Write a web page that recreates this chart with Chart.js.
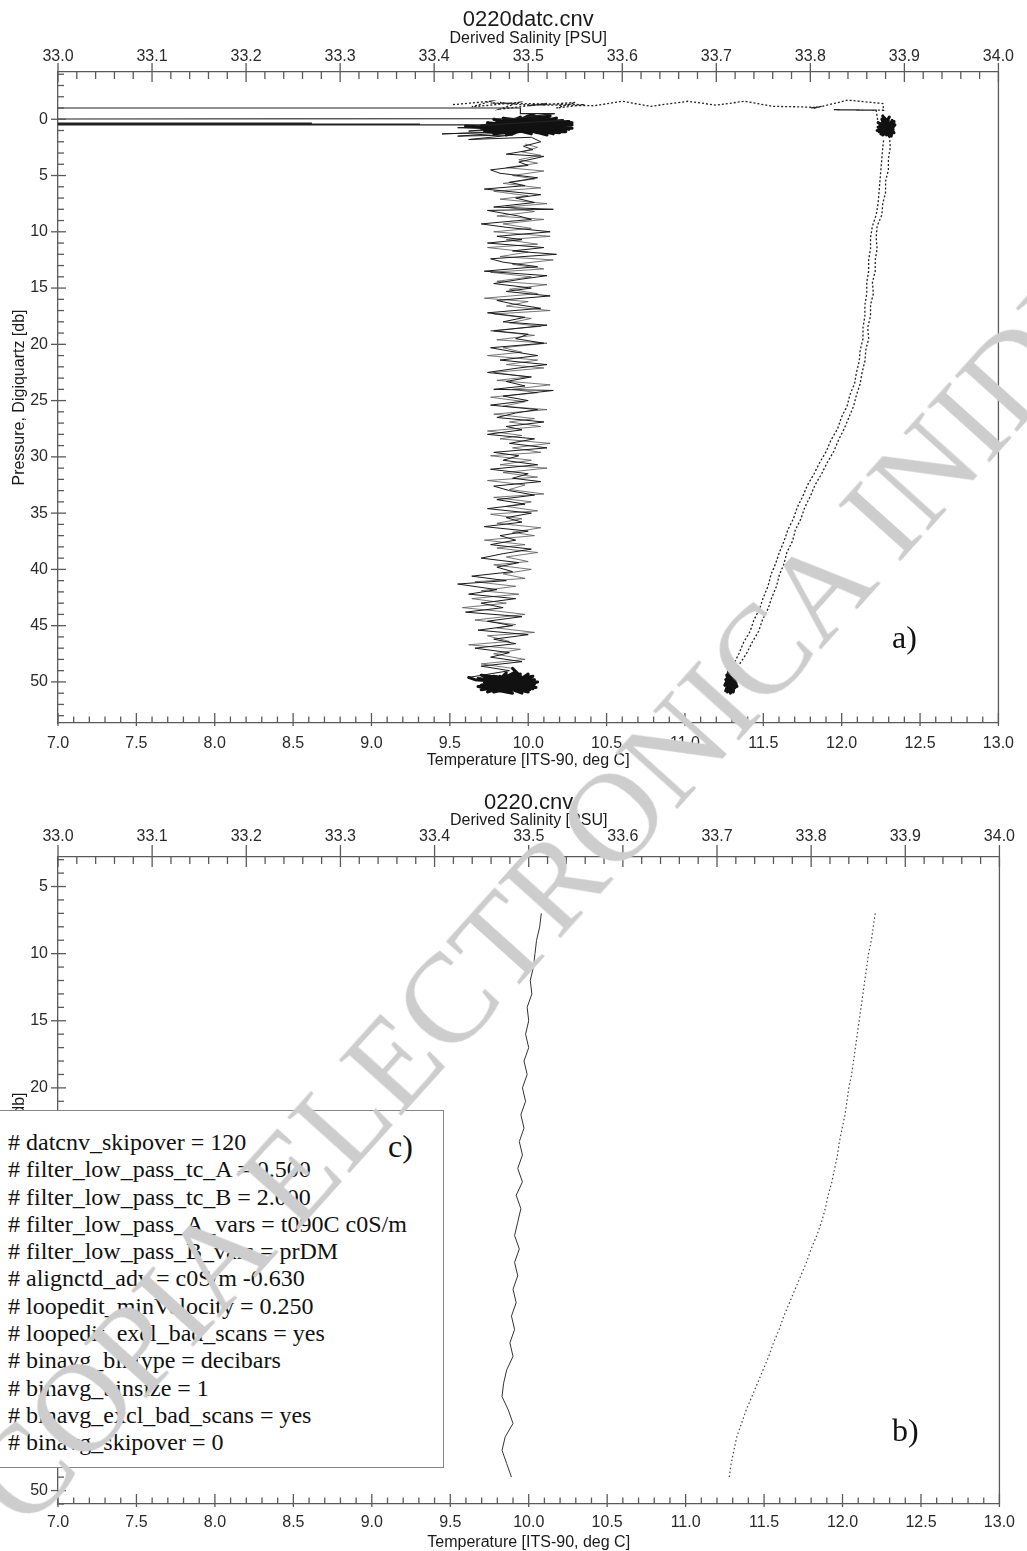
<!DOCTYPE html>
<html>
<head>
<meta charset="utf-8">
<script src="https://cdn.jsdelivr.net/npm/chart.js@4.4.1/dist/chart.umd.min.js"></script>
<style>
  html, body { margin: 0; padding: 0; background: #fff; }
  body { width: 1027px; height: 1551px; position: relative; overflow: hidden; font-family: "Liberation Sans", Arial, sans-serif; }
  .panel { position: absolute; left: 0; width: 1027px; }
  #wrapA { top: 0; height: 780px; }
  #wrapB { top: 780px; height: 771px; }
  .tag { position: absolute; font-family: "Liberation Serif", "Times New Roman", serif; font-size: 32px; line-height: 1; color: #111; }
  #notes { position: absolute; left: -2px; top: 1110px; width: 446px; height: 358px; box-sizing: border-box;
           border: 1.5px solid #858585; background: #fff; font-family: "Liberation Serif", "Times New Roman", serif;
           font-size: 24px; line-height: 27.3px; padding: 18px 0 0 9px; color: #111; white-space: pre; }
  #notes .tag { left: 389px; top: 19px; }
  #mark { position: absolute; left: -5px; top: 1441px; font-family: "Liberation Serif", "Times New Roman", serif;
          font-size: 126px; line-height: 1; color: #cdcdcd; white-space: nowrap;
          transform-origin: 0 50%; transform: rotate(-48deg); pointer-events: none; }
</style>
</head>
<body>
<div class="panel" id="wrapA"><canvas id="chartA" width="1027" height="780"></canvas></div>
<div class="panel" id="wrapB"><canvas id="chartB" width="1027" height="771"></canvas></div>
<div class="tag" style="left:892px; top:621px;">a)</div>
<div class="tag" style="left:892px; top:1414px;">b)</div>
<div id="notes"></div>
<div id="mark">COPIA ELECTRONICA INIDEP</div>
<script>
// ---- axis tick labels ----
const tempTicks = [7.0, 7.5, 8.0, 8.5, 9.0, 9.5, 10.0, 10.5, 11.0, 11.5, 12.0, 12.5, 13.0];
const salTicks = [33.0, 33.1, 33.2, 33.3, 33.4, 33.5, 33.6, 33.7, 33.8, 33.9, 34.0];
const presTicksRaw = [0, 5, 10, 15, 20, 25, 30, 35, 40, 45, 50];
const presTicksBinned = [5, 10, 15, 20, 25, 30, 35, 40, 45, 50];

// ---- raw cast (0220datc.cnv), temperature: [pressure db, degC] in scan order ----
// deck / surface soak: out-of-range readings run off the left of the axis
const tempSoak = [
  [-1.0, 4.0], [-1.0, 9.95], [-0.5, 9.95], [-0.5, 10.17], [-0.05, 9.9], [0.0, 4.0],
  [0.35, 4.0], [0.35, 8.62], [0.42, 4.0], [0.42, 9.31], [0.5, 4.0], [0.5, 9.75], [0.1, 10.22]
];
const tempTopCluster = [
  [0.1, 10.22], [0.6, 9.72], [0.2, 10.26], [0.9, 9.8], [0.0, 10.1], [1.2, 9.9], [0.3, 10.28], [0.8, 9.7],
  [-0.2, 10.05], [1.0, 10.2], [0.4, 9.76], [1.3, 10.02], [0.1, 9.86], [0.7, 10.27], [1.1, 9.74], [-0.1, 10.18],
  [0.5, 9.92], [1.4, 10.12], [0.2, 9.8], [0.9, 10.24], [0.6, 9.88], [-0.3, 10.0], [1.2, 9.84], [0.3, 10.16],
  [1.0, 9.72], [0.4, 10.25], [0.8, 9.95], [0.0, 9.78], [1.1, 10.14], [0.5, 10.28], [0.7, 9.82], [-0.2, 9.95],
  [1.3, 9.9], [0.2, 10.08], [0.9, 9.76], [0.6, 10.22], [1.0, 10.0], [0.1, 9.9], [0.8, 10.2], [0.4, 9.85],
  [1.2, 10.06], [0.3, 9.98], [0.7, 10.12], [0.5, 9.82], [1.0, 10.18], [0.2, 10.0], [0.6, 10.1], [0.9, 9.9],
  [0.4, 10.05], [0.8, 9.96], [0.2, 9.94], [0.9, 10.26], [-0.4, 10.02], [1.3, 9.78], [0.5, 10.2], [-0.1, 9.84],
  [1.1, 10.22], [0.3, 9.74], [0.7, 10.04], [1.4, 9.86], [-0.3, 10.14], [0.6, 9.7], [1.2, 10.2], [0.0, 9.94],
  [0.8, 10.28], [0.4, 9.9], [1.0, 9.78], [-0.2, 10.12], [0.5, 9.96], [1.3, 10.16], [0.1, 9.82], [0.9, 10.08],
  [0.6, 9.92], [1.1, 10.24], [0.3, 10.04], [0.8, 9.84], [0.6, 9.6]
];
const tempDescent = [
  [0.6, 9.6], [0.8, 10.18], [1.05, 9.62], [0.5, 10.05], [0.75, 9.55], [1.0, 10.1], [1.3, 9.45], [1.1, 9.95],
  [1.5, 9.55], [1.4, 9.9], [1.8, 9.62], [1.6, 10.02],
  [2.0, 10.08], [2.4, 9.97], [2.7, 10.03], [3.1, 9.86], [3.3, 10.10], [3.8, 9.94], [4.1, 10.00], [4.5, 9.76],
  [4.8, 9.82], [5.2, 10.06], [5.6, 9.88], [5.9, 9.98], [6.2, 9.72], [6.7, 10.08], [7.0, 9.92], [7.4, 10.04],
  [7.8, 9.78], [8.0, 10.16], [8.1, 9.74], [8.6, 9.94], [8.9, 10.02], [9.3, 9.70], [9.6, 9.86], [10.0, 10.14],
  [10.4, 9.80], [10.7, 9.96], [11.0, 9.74], [11.4, 10.10], [11.7, 9.90], [12.0, 10.18], [12.4, 9.76], [12.7, 9.84],
  [13.1, 10.06], [13.5, 9.72], [13.9, 10.12], [14.2, 9.96], [14.6, 9.78], [15.0, 10.02], [15.3, 9.86], [15.7, 10.14],
  [16.1, 9.80], [16.4, 9.90], [16.8, 10.08], [17.2, 9.74], [17.6, 9.98], [18.0, 9.84], [18.3, 10.12], [18.8, 9.78],
  [19.1, 10.00], [19.5, 9.92], [19.9, 10.10], [20.3, 9.76], [20.6, 9.88], [21.0, 10.06], [21.4, 9.82], [21.8, 10.12],
  [22.1, 9.94], [22.5, 9.74], [22.9, 10.02], [23.3, 9.86], [23.7, 9.98], [24.0, 9.78], [24.1, 10.16], [24.6, 9.84],
  [25.0, 10.00], [25.4, 9.76], [25.8, 10.06], [26.1, 9.92], [26.5, 9.80], [26.9, 10.10], [27.3, 9.86], [27.6, 9.96],
  [28.0, 9.74], [28.4, 10.04], [28.8, 9.88], [29.2, 10.12], [29.6, 9.78], [29.9, 9.94], [30.3, 9.84], [30.7, 10.06],
  [31.1, 9.76], [31.5, 10.00], [31.9, 9.90], [32.2, 10.08], [32.6, 9.78], [33.0, 9.88], [33.4, 10.04], [33.8, 9.80],
  [34.2, 9.98], [34.6, 9.74], [35.0, 10.02], [35.4, 9.86], [35.8, 9.96], [36.2, 9.72], [36.6, 10.00], [37.0, 9.82],
  [37.4, 9.92], [37.8, 9.76], [38.2, 10.02], [38.6, 9.84], [39.0, 9.70], [39.4, 9.94], [39.8, 9.80], [40.2, 9.90],
  [40.6, 9.64], [41.0, 9.86], [41.3, 9.55], [41.8, 9.80], [42.2, 9.62], [42.6, 9.92], [43.0, 9.70], [43.4, 9.84],
  [43.8, 9.60], [44.2, 9.96], [44.6, 9.74], [45.0, 9.90], [45.4, 9.68], [45.8, 10.00], [46.2, 9.78], [46.6, 9.92],
  [47.0, 9.66], [47.4, 9.88], [47.8, 9.76], [48.2, 9.96], [48.6, 9.70], [49.0, 9.88], [49.6, 9.62]
];
const tempBottomCluster = [
  [49.6, 9.62], [49.8, 9.66], [50.2, 10.04], [50.6, 9.72], [49.6, 10.0], [50.9, 9.78], [50.0, 10.06], [49.4, 9.7],
  [50.7, 9.98], [50.1, 9.75], [49.5, 10.03], [50.8, 9.8], [49.3, 9.95], [50.3, 9.7], [50.5, 10.05], [49.7, 9.76],
  [50.9, 10.0], [50.0, 9.72], [49.9, 9.96], [50.6, 9.8], [50.3, 10.02], [49.6, 9.74], [51.0, 9.9], [50.4, 9.68],
  [49.8, 10.04], [50.2, 9.78], [50.7, 10.01], [49.5, 9.82], [50.5, 9.94], [50.0, 9.86], [50.8, 9.92], [49.7, 9.88],
  [50.4, 9.98], [49.9, 9.84], [49.2, 9.86], [50.9, 9.74], [49.6, 10.02], [50.4, 9.82], [49.1, 9.92], [50.7, 9.7],
  [50.0, 10.04], [49.5, 9.78], [51.0, 9.96], [49.8, 9.72], [50.5, 9.88], [49.3, 10.0], [50.8, 9.84], [50.1, 9.94],
  [49.7, 9.68], [50.6, 10.03], [48.8, 9.90]
];
const tempAscent = [
  [48.8, 9.90], [48.4, 9.70], [48.0, 9.98], [47.5, 9.78], [47.1, 9.95], [46.7, 9.62], [46.4, 9.88], [45.9, 9.74],
  [45.6, 10.04], [45.2, 9.80], [44.9, 9.92], [44.5, 9.66], [44.0, 9.98], [43.7, 9.80], [43.4, 9.58], [43.0, 9.86],
  [42.6, 9.64], [42.2, 9.94], [41.9, 9.70], [41.5, 9.92], [41.1, 9.66], [40.8, 9.98], [40.4, 9.84], [40.0, 10.02],
  [39.6, 9.78], [39.3, 10.00], [38.9, 9.86], [38.5, 10.06], [38.1, 9.80], [37.8, 9.98], [37.4, 9.72], [37.0, 10.04],
  [36.7, 9.90], [36.3, 10.08], [35.9, 9.80], [35.5, 9.96], [35.1, 9.76], [34.8, 10.06], [34.4, 9.86], [34.0, 10.02],
  [33.6, 9.78], [33.3, 10.10], [32.9, 9.88], [32.5, 9.98], [32.1, 9.74], [31.8, 10.06], [31.4, 9.84], [31.0, 10.12],
  [30.7, 9.82], [30.3, 10.02], [29.9, 9.76], [29.6, 10.08], [29.2, 9.90], [28.8, 10.14], [28.4, 9.82], [28.1, 9.96],
  [27.7, 9.74], [27.3, 10.08], [26.9, 9.88], [26.6, 10.04], [26.2, 9.78], [25.8, 10.12], [25.5, 9.84], [25.1, 9.98],
  [24.7, 9.76], [24.3, 10.06], [24.0, 9.90], [23.6, 10.14], [23.2, 9.80], [22.9, 10.00], [22.5, 9.78], [22.1, 10.10],
  [21.8, 9.86], [21.4, 10.06], [21.0, 9.74], [20.7, 9.96], [20.3, 9.84], [19.9, 10.12], [19.6, 9.80], [19.2, 10.04],
  [18.8, 9.76], [18.4, 10.08], [18.1, 9.88], [17.7, 10.02], [17.3, 9.78], [17.0, 10.14], [16.6, 9.86], [16.2, 10.00],
  [15.9, 9.72], [15.5, 10.06], [15.1, 9.88], [14.7, 10.12], [14.4, 9.80], [14.0, 10.02], [13.6, 9.76], [13.3, 10.10],
  [12.9, 9.90], [12.5, 10.16], [12.2, 9.82], [11.8, 10.00], [11.4, 9.74], [11.1, 10.06], [10.7, 9.86], [10.4, 10.14],
  [10.0, 9.78], [9.7, 10.02], [9.3, 9.84], [8.9, 10.10], [8.6, 9.80], [8.2, 10.04], [7.8, 9.86], [7.5, 10.12],
  [7.1, 9.82], [6.8, 10.00], [6.4, 9.78], [6.1, 10.08], [5.7, 9.84], [5.3, 10.04], [5.0, 9.90], [4.6, 10.10],
  [4.3, 9.86], [3.9, 10.06], [3.6, 9.94], [3.2, 10.08], [2.9, 9.96], [2.5, 10.06], [2.2, 9.98]
];

// ---- raw cast, salinity: [pressure db, PSU] in scan order ----
const salSurface = [
  [-1.3, 33.42], [-1.6, 33.46], [-1.1, 33.44], [-1.5, 33.49], [-0.9, 33.47], [-1.4, 33.52], [-1.2, 33.50],
  [-1.5, 33.55], [-1.0, 33.53], [-1.3, 33.56], [-1.45, 33.46], [-1.35, 33.48], [-1.5, 33.47], [-1.3, 33.49],
  [-1.2, 33.57], [-1.6, 33.60], [-1.15, 33.63], [-1.6, 33.67], [-1.25, 33.70], [-1.6, 33.73], [-1.15, 33.76],
  [-1.1, 33.79], [-1.05, 33.807], [-1.0, 33.80], [-1.15, 33.812], [-0.95, 33.803], [-1.1, 33.81],
  [-1.7, 33.84], [-1.4, 33.877], [-0.8, 33.878], [-0.85, 33.825], [-0.8, 33.87], [0.3, 33.872]
];
const salTopCluster = [
  [0.3, 33.872], [0.9, 33.888], [0.0, 33.876], [1.3, 33.882], [0.5, 33.890], [1.1, 33.873], [-0.2, 33.884],
  [0.7, 33.878], [1.5, 33.886], [0.2, 33.889], [1.0, 33.871], [0.6, 33.884], [-0.1, 33.879], [1.2, 33.889],
  [0.4, 33.875], [0.8, 33.887], [1.4, 33.877], [0.1, 33.883], [0.9, 33.880], [0.5, 33.874], [1.2, 33.884],
  [0.3, 33.886], [0.7, 33.872], [1.0, 33.885], [0.2, 33.878], [0.6, 33.888], [1.3, 33.875], [0.0, 33.882],
  [0.8, 33.874], [1.1, 33.888], [0.4, 33.880], [-0.3, 33.877], [0.9, 33.884], [0.5, 33.879], [1.4, 33.881],
  [0.1, 33.887], [0.7, 33.883], [1.5, 33.884]
];
const salDown = [
  [1.5, 33.884], [2.5, 33.885], [3.5, 33.883], [4.5, 33.883], [5.5, 33.880], [6.5, 33.880], [7.5, 33.877],
  [8.5, 33.876], [9.5, 33.871], [10.5, 33.870], [11.5, 33.871], [12.5, 33.869], [13.5, 33.869], [14.5, 33.866],
  [15.5, 33.867], [16.5, 33.864], [17.5, 33.864], [18.5, 33.861], [19.5, 33.862], [20.5, 33.859], [21.5, 33.858],
  [22.5, 33.855], [23.5, 33.853], [24.5, 33.849], [25.5, 33.846], [26.5, 33.841], [27.5, 33.836], [28.5, 33.830],
  [29.5, 33.825], [30.5, 33.818], [31.5, 33.812], [32.5, 33.805], [33.5, 33.800], [34.5, 33.794], [35.5, 33.790],
  [36.5, 33.784], [37.5, 33.781], [38.5, 33.775], [39.5, 33.772], [40.5, 33.767], [41.5, 33.764], [42.5, 33.759],
  [43.5, 33.755], [44.5, 33.749], [45.5, 33.745], [46.5, 33.738], [47.5, 33.732], [48.5, 33.724], [49.2, 33.719]
];
const salBottomCluster = [
  [49.2, 33.719], [49.8, 33.710], [50.5, 33.720], [49.1, 33.714], [50.9, 33.712], [49.6, 33.722], [50.3, 33.709],
  [49.0, 33.717], [51.0, 33.715], [50.1, 33.721], [49.4, 33.711], [50.7, 33.718], [49.9, 33.713], [50.4, 33.722],
  [49.3, 33.716], [50.8, 33.710], [50.0, 33.719], [49.7, 33.714], [50.6, 33.716], [49.5, 33.720], [50.2, 33.712],
  [49.0, 33.713], [50.5, 33.714], [49.4, 33.721], [50.9, 33.718], [49.8, 33.716], [48.9, 33.718]
];
const salUp = [
  [48.9, 33.718], [48.5, 33.718], [47.5, 33.724], [46.5, 33.729], [45.5, 33.736], [44.5, 33.740], [43.5, 33.746],
  [42.5, 33.750], [41.5, 33.755], [40.5, 33.758], [39.5, 33.763], [38.5, 33.767], [37.5, 33.772], [36.5, 33.776],
  [35.5, 33.782], [34.5, 33.786], [33.5, 33.792], [32.5, 33.797], [31.5, 33.804], [30.5, 33.810], [29.5, 33.817],
  [28.5, 33.822], [27.5, 33.829], [26.5, 33.833], [25.5, 33.839], [24.5, 33.842], [23.5, 33.847], [22.5, 33.849],
  [21.5, 33.852], [20.5, 33.853], [19.5, 33.856], [18.5, 33.856], [17.5, 33.858], [16.5, 33.858], [15.5, 33.860],
  [14.5, 33.860], [13.5, 33.862], [12.5, 33.862], [11.5, 33.864], [10.5, 33.864], [9.5, 33.866], [8.5, 33.870],
  [7.5, 33.872], [6.5, 33.873], [5.5, 33.874], [4.5, 33.875], [3.5, 33.876], [2.5, 33.877], [1.8, 33.878]
];

// ---- bin-averaged cast (0220.cnv), 1 db bins ----
const binPres = [7, 8, 9, 10, 11, 12, 13, 14, 15, 16, 17, 18, 19, 20, 21, 22, 23, 24, 25, 26, 27, 28,
                 29, 30, 31, 32, 33, 34, 35, 36, 37, 38, 39, 40, 41, 42, 43, 44, 45, 46, 47, 48, 49];
const binTemp = [10.08, 10.07, 10.05, 10.04, 10.03, 10.01, 10.02, 9.99, 10.00, 9.98, 10.00, 9.97, 9.99, 9.96,
                 9.98, 9.95, 9.97, 9.94, 9.96, 9.93, 9.96, 9.92, 9.95, 9.93, 9.91, 9.94, 9.91, 9.93, 9.90,
                 9.92, 9.89, 9.91, 9.88, 9.90, 9.86, 9.84, 9.83, 9.87, 9.90, 9.85, 9.83, 9.86, 9.89];
const binSal = [33.868, 33.866, 33.864, 33.861, 33.859, 33.857, 33.855, 33.853, 33.851, 33.849, 33.847,
                33.845, 33.843, 33.840, 33.838, 33.836, 33.833, 33.830, 33.828, 33.825, 33.822, 33.818,
                33.815, 33.811, 33.806, 33.800, 33.795, 33.789, 33.783, 33.777, 33.771, 33.766, 33.760,
                33.755, 33.749, 33.743, 33.737, 33.731, 33.726, 33.721, 33.718, 33.715, 33.713];

// ---- processing header shown in the note box ----
const settingsLines = [
  '# datcnv_skipover = 120',
  '# filter_low_pass_tc_A = 0.500',
  '# filter_low_pass_tc_B = 2.000',
  '# filter_low_pass_A_vars = t090C c0S/m',
  '# filter_low_pass_B_vars = prDM',
  '# alignctd_adv = c0S/m -0.630',
  '# loopedit_minVelocity = 0.250',
  '# loopedit_excl_bad_scans = yes',
  '# binavg_bintype = decibars',
  '# binavg_binsize = 1',
  '# binavg_excl_bad_scans = yes',
  '# binavg_skipover = 0'
];

const AXIS = '#5a5a5a';
const TEXT = '#2a2a2a';
const FONT = '"Liberation Sans", Arial, sans-serif';

// Tick marks (major + minor), right-hand frame line and the file name above each plot.
const profileFrame = {
  id: 'profileFrame',
  afterDraw(chart, args, o) {
    const { ctx, chartArea: a, scales } = chart;
    ctx.save();
    ctx.strokeStyle = AXIS;
    ctx.lineWidth = 1.3;
    const seg = (x1, y1, x2, y2) => { ctx.beginPath(); ctx.moveTo(x1, y1); ctx.lineTo(x2, y2); ctx.stroke(); };
    seg(a.right, a.top, a.right, a.bottom);

    const marks = (scale, minor, every, draw) => {
      const start = Math.ceil(scale.min / minor - 1e-6);
      const end = Math.floor(scale.max / minor + 1e-6);
      for (let k = start; k <= end; k++) draw(scale.getPixelForValue(k * minor), k % every === 0);
    };
    marks(scales.xS, 0.02, 5, (x, major) => major ? seg(x, a.top - o.topOut, x, a.top + 10) : seg(x, a.top, x, a.top + 7));
    marks(scales.xT, 0.1, 5, (x, major) => major ? seg(x, a.bottom + 3, x, a.bottom - 10) : seg(x, a.bottom, x, a.bottom - 6.5));
    marks(scales.y, 1, 5, (y, major) => major ? seg(a.left - 7, y, a.left + 8, y) : seg(a.left, y, a.left + 6, y));

    ctx.fillStyle = '#1a1a1a';
    ctx.font = '22px ' + FONT;
    ctx.textAlign = 'center';
    ctx.textBaseline = 'middle';
    ctx.fillText(o.title, (a.left + a.right) / 2, o.titleY);
    ctx.restore();
  }
};

function makeChart(canvasId, cfg) {
  const fixedTicks = list => scale => { scale.ticks = list.map(v => ({ value: v })); };
  const tickFont = { family: FONT, size: 16, lineHeight: 1 };
  const titleFont = { family: FONT, size: 16, lineHeight: 1 };
  return new Chart(document.getElementById(canvasId), {
    type: 'scatter',
    data: { datasets: cfg.datasets },
    options: {
      responsive: false,
      animation: false,
      devicePixelRatio: 1,
      layout: { padding: { left: 0, right: 24, top: 0, bottom: 0 } },
      plugins: {
        legend: { display: false },
        tooltip: { enabled: false },
        profileFrame: { title: cfg.title, titleY: cfg.titleY, topOut: cfg.topOut }
      },
      scales: {
        xS: {
          type: 'linear', axis: 'x', position: 'top', min: 33, max: 34,
          afterBuildTicks: fixedTicks(salTicks),
          afterFit: s => { s.height = cfg.topH; },
          grid: { display: false, drawTicks: false },
          border: { display: true, color: AXIS, width: 1.3 },
          ticks: { autoSkip: false, maxRotation: 0, padding: cfg.topPad, color: TEXT, font: tickFont, callback: v => v.toFixed(1) },
          title: { display: true, text: 'Derived Salinity [PSU]', color: '#1a1a1a', font: titleFont, padding: { top: cfg.topTitlePad, bottom: 0 } }
        },
        xT: {
          type: 'linear', axis: 'x', position: 'bottom', min: 7, max: 13,
          afterBuildTicks: fixedTicks(tempTicks),
          afterFit: s => { s.height = cfg.bottomH; },
          grid: { display: false, drawTicks: false },
          border: { display: true, color: AXIS, width: 1.3 },
          ticks: { autoSkip: false, maxRotation: 0, padding: cfg.bottomPad, color: TEXT, font: tickFont, callback: v => v.toFixed(1) },
          title: { display: true, text: 'Temperature [ITS-90, deg C]', color: '#1a1a1a', font: titleFont, padding: { top: 0, bottom: cfg.bottomTitlePad } }
        },
        y: {
          type: 'linear', axis: 'y', position: 'left', reverse: true, min: cfg.pMin, max: cfg.pMax,
          afterBuildTicks: fixedTicks(cfg.pTicks),
          afterFit: s => { s.width = 58; },
          grid: { display: false, drawTicks: false },
          border: { display: true, color: AXIS, width: 1.3 },
          ticks: { autoSkip: false, padding: 10, color: TEXT, font: tickFont, callback: v => String(v) },
          title: { display: true, text: 'Pressure, Digiquartz [db]', color: '#1a1a1a', font: titleFont, padding: { top: 12, bottom: 0 } }
        }
      }
    },
    plugins: [profileFrame]
  });
}

const base = { showLine: true, pointRadius: 0, pointHoverRadius: 0, tension: 0, yAxisID: 'y' };
const rounded = { borderJoinStyle: 'round', borderCapStyle: 'round' };
const tempLine = (rows, width, color, extra) => Object.assign({
  data: rows.map(([p, t]) => ({ x: t, y: p })), xAxisID: 'xT', borderColor: color, borderWidth: width }, base, extra || {});
const salLine = (rows, width, color, dash, extra) => Object.assign({
  data: rows.map(([p, s]) => ({ x: s, y: p })), xAxisID: 'xS', borderColor: color, borderWidth: width, borderDash: dash }, base, extra || {});

makeChart('chartA', {
  title: '0220datc.cnv', titleY: 20, topOut: 9,
  topH: 72, topPad: 7, topTitlePad: 31,
  bottomH: 57, bottomPad: 13, bottomTitlePad: 11,
  pMin: -4.2, pMax: 53.65, pTicks: presTicksRaw,
  datasets: [
    tempLine(tempSoak, 1.2, '#222'),
    tempLine(tempTopCluster, 3, '#111', rounded),
    tempLine(tempDescent, 1, '#1a1a1a'),
    tempLine(tempBottomCluster, 3, '#111', rounded),
    tempLine(tempAscent, 0.8, '#555'),
    salLine(salSurface, 1.3, '#222', [2, 2]),
    salLine(salTopCluster, 3, '#111', [], rounded),
    salLine(salDown, 1.3, '#222', [2, 2]),
    salLine(salBottomCluster, 3, '#111', [], rounded),
    salLine(salUp, 1.3, '#222', [2, 2])
  ]
});

makeChart('chartB', {
  title: '0220.cnv', titleY: 23, topOut: 12,
  topH: 77, topPad: 12, topTitlePad: 33,
  bottomH: 47, bottomPad: 11, bottomTitlePad: 0,
  pMin: 2.8, pMax: 51.0, pTicks: presTicksBinned,
  datasets: [
    tempLine(binPres.map((p, i) => [p, binTemp[i]]), 1, '#333'),
    salLine(binPres.map((p, i) => [p, binSal[i]]), 1.2, '#444', [1.5, 2.5])
  ]
});

const notes = document.getElementById('notes');
notes.textContent = settingsLines.join('\n');
const tagC = document.createElement('div');
tagC.className = 'tag';
tagC.textContent = 'c)';
notes.appendChild(tagC);
</script>
</body>
</html>
